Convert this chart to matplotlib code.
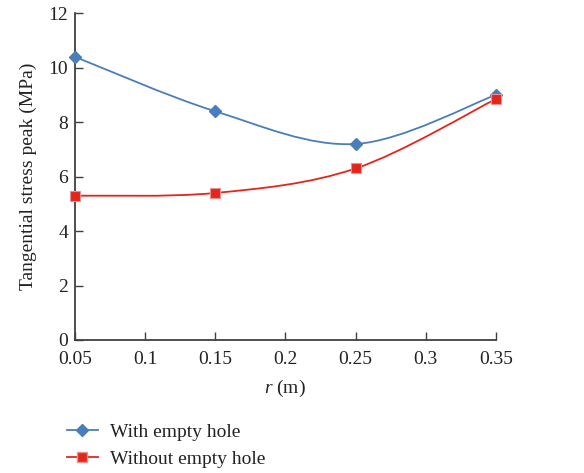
import numpy as np
import matplotlib.pyplot as plt
from matplotlib.path import Path
from matplotlib.patches import PathPatch
from matplotlib.lines import Line2D

plt.rcParams['font.family'] = ['Liberation Serif', 'DejaVu Serif']
plt.rcParams['mathtext.fontset'] = 'custom'
plt.rcParams['mathtext.it'] = 'Liberation Serif:italic'
plt.rcParams['mathtext.rm'] = 'Liberation Serif'

# donnees
r = [0.05, 0.15, 0.25, 0.35]
avec_trou = [10.4, 8.4, 7.2, 9.0]
sans_trou = [5.3, 5.4, 6.3, 8.85]
xticks = [0.05, 0.1, 0.15, 0.2, 0.25, 0.3, 0.35]
xlabels = ['0.05', '0.1', '0.15', '0.2', '0.25', '0.3', '0.35']
yticks = [0, 2, 4, 6, 8, 10, 12]

BLEU = '#4a7ebb'
ROUGE = '#e2261c'
GRIS = '#404040'
TEXTE = '#222222'


def chemin_lisse(x, y, tension=1/6):
    """courbe de Bezier type 'lissage' Excel passant par les points"""
    x = np.asarray(x, float)
    y = np.asarray(y, float)
    n = len(x)
    verts = [(x[0], y[0])]
    codes = [Path.MOVETO]
    for i in range(n - 1):
        i0 = max(i - 1, 0)
        i3 = min(i + 2, n - 1)
        c1 = (x[i] + (x[i+1] - x[i0]) * tension, y[i] + (y[i+1] - y[i0]) * tension)
        c2 = (x[i+1] - (x[i3] - x[i]) * tension, y[i+1] - (y[i3] - y[i]) * tension)
        verts += [c1, c2, (x[i+1], y[i+1])]
        codes += [Path.CURVE4] * 3
    return Path(verts, codes)


fig = plt.figure(figsize=(5.84, 4.73), dpi=100)
ax = fig.add_axes([0.1284, 0.2812, 0.849 - 0.1284, 0.9719 - 0.2812])

ax.add_patch(PathPatch(chemin_lisse(r, avec_trou), fc='none', ec=BLEU, lw=1.3, clip_on=False))
ax.add_patch(PathPatch(chemin_lisse(r, sans_trou), fc='none', ec=ROUGE, lw=1.3, clip_on=False))
ax.plot(r, avec_trou, ls='none', marker='D', ms=6.5, color=BLEU, mec=BLEU,
        clip_on=False, zorder=5)
ax.plot(r, sans_trou, ls='none', marker='s', ms=7.5, color=ROUGE, mec='#e89090',
        mew=0.8, clip_on=False, zorder=5)

ax.set_xlim(0.05, 0.35)
ax.set_ylim(0, 12)
ax.set_xticks(xticks)
ax.set_xticklabels(xlabels)
ax.set_yticks(yticks)

for s in ['top', 'right']:
    ax.spines[s].set_visible(False)
for s in ['left', 'bottom']:
    ax.spines[s].set_color(GRIS)
    ax.spines[s].set_linewidth(1.3)
ax.tick_params(direction='in', length=6, width=1, color=GRIS,
               labelsize=14, labelcolor=TEXTE)
ax.tick_params(axis='x', pad=8)
ax.tick_params(axis='y', pad=5)
ax.set_ylabel('Tangential stress peak (MPa)', fontsize=14, color=TEXTE, labelpad=8)
ax.set_xlabel('$\\mathit{r}$ (m)', fontsize=14, color=TEXTE, labelpad=7)

poignees = [Line2D([], [], color=BLEU, marker='D', ms=6, lw=1.3),
            Line2D([], [], color=ROUGE, marker='s', ms=7, mec='#e89090', lw=1.3)]
fig.legend(poignees, ['With empty hole', 'Without empty hole'],
           loc='upper left', bbox_to_anchor=(0.101, 0.121),
           frameon=False, fontsize=14, handlelength=1.6, handletextpad=0.6,
           labelspacing=0.45, labelcolor=TEXTE, borderaxespad=0)

fig.savefig('out.png', dpi=100)
